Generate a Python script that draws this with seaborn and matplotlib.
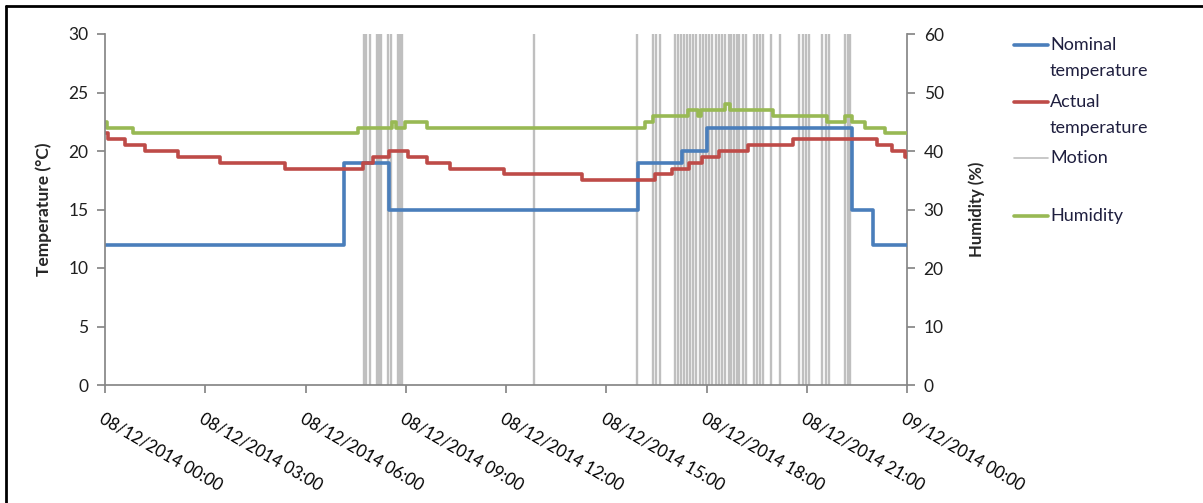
import numpy as np
import pandas as pd
import matplotlib
matplotlib.use("Agg")
import matplotlib.pyplot as plt
import seaborn as sns
from matplotlib.lines import Line2D

# ---- data (hours since 08/12/2014 00:00) ----
nominal_t = [0.0, 7.15, 8.50, 15.95, 17.27, 18.01, 22.35, 22.98, 24.0]
nominal_v = [12, 19, 15, 19, 20, 22, 15, 12, 12]

actual_t = [0.0, 0.09, 0.60, 1.20, 2.18, 3.44, 5.39, 7.72, 8.02, 8.50, 9.07, 9.63,
            10.32, 11.94, 14.27, 16.46, 16.98, 17.48, 17.86, 18.37, 19.24, 20.59,
            23.10, 23.55, 23.94, 24.0]
actual_v = [21.5, 21, 20.5, 20, 19.5, 19, 18.5, 19, 19.5, 20, 19.5, 19,
            18.5, 18, 17.5, 18, 18.5, 19, 19.5, 20, 20.5, 21,
            20.5, 20, 19.5, 19.5]

humid_t = [0.0, 0.05, 0.84, 7.57, 8.60, 8.70, 8.98, 9.63, 16.16, 16.40, 17.44,
           17.75, 17.85, 18.55, 18.70, 19.99, 21.60, 22.14, 22.35, 22.74, 23.34, 24.0]
humid_v = [45, 44, 43, 44, 45, 44, 45, 44, 45, 46, 47,
           46, 47, 48, 47, 46, 45, 46, 45, 44, 43, 43]

motion_t = [7.75, 7.81, 7.93, 8.14, 8.20, 8.26, 8.47, 8.56, 8.77, 8.83, 8.89,
            12.84,
            15.92, 16.40, 16.49, 16.61, 17.06, 17.15, 17.24, 17.33, 17.41, 17.50,
            17.59, 17.68, 17.80, 17.89, 17.98, 18.07, 18.16, 18.28, 18.37, 18.46,
            18.55, 18.67, 18.73, 18.82, 18.91, 18.97, 19.09, 19.18, 19.42, 19.51,
            19.60, 19.69, 19.93, 20.20, 20.77, 20.89, 20.98, 21.07, 21.45, 21.57,
            21.66, 22.14, 22.23, 22.29]
motion_level = 60

xtick_labels = ["08/12/2014 00:00", "08/12/2014 03:00", "08/12/2014 06:00",
                "08/12/2014 09:00", "08/12/2014 12:00", "08/12/2014 15:00",
                "08/12/2014 18:00", "08/12/2014 21:00", "09/12/2014 00:00"]

C_BLUE = "#4A7EBB"
C_RED = "#BE4B48"
C_GREEN = "#98B954"
C_GRAY = "#BFBFBF"
C_AXIS = "#868686"

sns.set_theme(style="white")
plt.rcParams["font.family"] = ["Lato", "DejaVu Sans"]

fig = plt.figure(figsize=(12.03, 5.03), dpi=100)
ax = fig.add_axes([105 / 1203, 1 - 385 / 503, (907 - 105) / 1203, (385 - 34) / 503])
ax2 = ax.twinx()

# motion on secondary axis (drawn under the lines)
ax2.vlines(motion_t, 0, motion_level, color=C_GRAY, lw=1.7, zorder=1)

df_h = pd.DataFrame({"t": humid_t, "v": humid_v})
sns.lineplot(data=df_h, x="t", y="v", ax=ax2, color=C_GREEN, lw=2.6,
             drawstyle="steps-post", zorder=3)

ax.set_zorder(ax2.get_zorder() + 1)
ax.patch.set_visible(False)

df_n = pd.DataFrame({"t": nominal_t, "v": nominal_v})
df_a = pd.DataFrame({"t": actual_t, "v": actual_v})
sns.lineplot(data=df_n, x="t", y="v", ax=ax, color=C_BLUE, lw=2.6, drawstyle="steps-post")
sns.lineplot(data=df_a, x="t", y="v", ax=ax, color=C_RED, lw=2.6, drawstyle="steps-post")

ax.set_xlim(0, 24)
ax.set_ylim(0, 30)
ax2.set_ylim(0, 60)
ax.set_yticks(range(0, 31, 5))
ax2.set_yticks(range(0, 61, 10))
ax.set_xticks(range(0, 25, 3))
ax.set_xticklabels(xtick_labels, rotation=-30, ha="left", va="top",
                   rotation_mode="anchor", fontsize=12, color="black")

for a in (ax, ax2):
    for s in a.spines.values():
        s.set_visible(False)
    a.grid(False)
ax.spines["left"].set_visible(True)
ax.spines["left"].set_color(C_AXIS)
ax.spines["bottom"].set_visible(True)
ax.spines["bottom"].set_color(C_AXIS)
ax2.spines["right"].set_visible(True)
ax2.spines["right"].set_color(C_AXIS)

ax.tick_params(axis="y", left=True, length=6, color=C_AXIS, labelsize=12.5,
               labelcolor="#1f1f1f", pad=6)
ax.tick_params(axis="x", bottom=True, length=6, color=C_AXIS, pad=12)
ax2.tick_params(axis="y", right=True, length=6, color=C_AXIS, labelsize=12.5,
                labelcolor="#1f1f1f", pad=6)

ax.set_xlabel("")
ax.set_ylabel("Temperature (°C)", fontsize=12.5, fontweight="bold", labelpad=12)
ax2.set_ylabel("Humidity (%)", fontsize=12, fontweight="bold", labelpad=18)

# legend (manual, Excel style: handle aligned with first text line)
entries = [("Nominal\ntemperature", C_BLUE, 2.6, 45),
           ("Actual\ntemperature", C_RED, 2.6, 102),
           ("Motion", C_GRAY, 1.2, 158),
           ("Humidity", C_GREEN, 2.6, 216)]
for label, col, lw, ypx in entries:
    y = 1 - ypx / 503
    fig.add_artist(Line2D([1014 / 1203, 1048 / 1203], [y, y], color=col, lw=lw,
                          transform=fig.transFigure))
    fig.text(1050 / 1203, 1 - (ypx - 8) / 503, label, fontsize=13, color="#1f1f3f",
             ha="left", va="top", linespacing=1.75)

# outer frame (left and top)
fig.add_artist(Line2D([6 / 1203, 6 / 1203], [0, 1 - 6 / 503], color="black", lw=2,
                      transform=fig.transFigure))
fig.add_artist(Line2D([6 / 1203, 1], [1 - 6 / 503, 1 - 6 / 503], color="black", lw=2,
                      transform=fig.transFigure))

fig.savefig("out.png", dpi=100)
